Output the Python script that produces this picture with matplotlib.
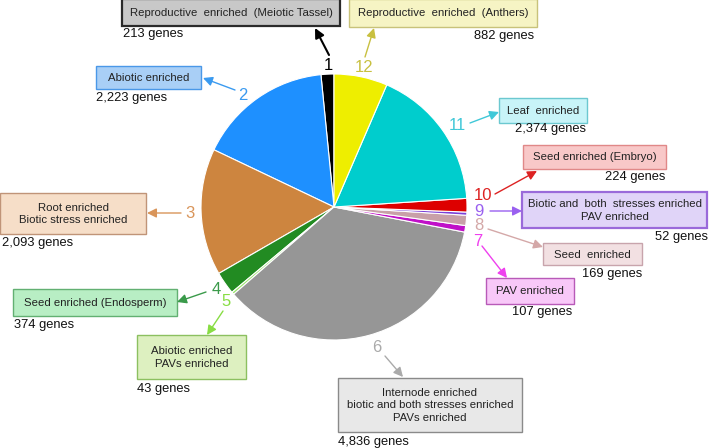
import matplotlib.pyplot as plt
from matplotlib.patches import Rectangle

plt.rcParams["font.family"] = ["Liberation Sans", "DejaVu Sans"]

W, H = 709, 448

# slice order goes counter-clockwise from the top
numbers = ["1", "2", "3", "4", "5", "6", "7", "8", "9", "10", "11", "12"]
genes = [213, 2223, 2093, 374, 43, 4836, 107, 169, 52, 224, 2374, 882]
categories = [
    "Reproductive  enriched  (Meiotic Tassel)",
    "Abiotic enriched",
    "Root enriched\nBiotic stress enriched",
    "Seed enriched (Endosperm)",
    "Abiotic enriched\nPAVs enriched",
    "Internode enriched\nbiotic and both stresses enriched\nPAVs enriched",
    "PAV enriched",
    "Seed  enriched",
    "Biotic and  both  stresses enriched\nPAV enriched",
    "Seed enriched (Embryo)",
    "Leaf  enriched",
    "Reproductive  enriched  (Anthers)",
]

wedge_colors = ["#000000", "#1e90ff", "#cd853f", "#228b22", "#9be66e", "#969696",
                "#c010c8", "#c8a0a8", "#7b3fd8", "#dd0000", "#00cdcd", "#eeee00"]
label_colors = ["#000000", "#3a9af0", "#d9955a", "#3a9a4a", "#88dd44", "#aaaaaa",
                "#ee40ee", "#d4a8a8", "#9a60f0", "#dd2222", "#40c8d8", "#c8c040"]
box_fill = ["#c8c8c8", "#a9cff6", "#f6dec8", "#b8eec4", "#ddf0c0", "#e8e8e8",
            "#f8c8f8", "#f2e0e2", "#e0d4f8", "#f8c8c8", "#c8f4f8", "#f6f4c4"]
box_edge = ["#2a2a2a", "#4a98e8", "#c09478", "#62b072", "#8cc060", "#8a8a8a",
            "#b85ab8", "#c8a4ac", "#9a6ada", "#e08888", "#6cc8d0", "#c8c27a"]

# layout in pixels (x0, y0, x1, y1), y measured from the top
boxes = [(122, -1, 340, 26), (96, 66, 201, 89), (0, 193, 146, 234),
         (13, 289, 177, 316), (137, 335, 246, 379), (338, 378, 522, 432),
         (486, 278, 574, 304), (543, 243, 642, 265), (522, 192, 707, 228),
         (523, 145, 666, 169), (499, 98, 587, 123), (349, -1, 537, 27)]
# gene count text: (x, y, alignment)
gene_pos = [(123, 34, "left"), (96, 98, "left"), (2, 243, "left"),
            (14, 325, "left"), (137, 389, "left"), (338, 442, "left"),
            (572, 312, "right"), (642, 274, "right"), (708, 237, "right"),
            (665, 177, "right"), (586, 129, "right"), (534, 36, "right")]
number_pos = [(328, 65), (243, 95), (190, 213), (216, 289), (226, 302), (377, 347),
              (478, 241), (479, 226), (479, 211), (483, 196), (457, 125), (364, 67)]
arrows = [((329, 55), (315, 28)), ((235, 90), (203, 78)), ((181, 213), (147, 213)),
          ((206, 292), (177, 302)), ((223, 311), (207, 335)), ((385, 356), (403, 377)),
          ((482, 246), (507, 278)), ((488, 229), (543, 247)), ((490, 211), (522, 211)),
          ((495, 194), (537, 171)), ((470, 123), (499, 112)), ((365, 57), (374, 28))]

cx, cy, r = 334, 207, 133

fig = plt.figure(figsize=(W / 100, H / 100), dpi=100)

pie_ax = fig.add_axes([(cx - r) / W, (H - cy - r) / H, 2 * r / W, 2 * r / H])
pie_ax.pie(genes, colors=wedge_colors, startangle=90, counterclock=True,
           wedgeprops=dict(edgecolor="white", linewidth=0.8))
pie_ax.set_xlim(-1.0, 1.0)
pie_ax.set_ylim(-1.0, 1.0)
pie_ax.axis("off")

ax = fig.add_axes([0, 0, 1, 1])
ax.set_xlim(0, W)
ax.set_ylim(H, 0)
ax.axis("off")

for i, cat in enumerate(categories):
    x0, y0, x1, y1 = boxes[i]
    lw = 1.6 if i in (0, 8) else 1.0
    ax.add_patch(Rectangle((x0, y0), x1 - x0, y1 - y0, facecolor=box_fill[i],
                           edgecolor=box_edge[i], linewidth=lw, zorder=2))
    ax.text((x0 + x1) / 2, (y0 + y1) / 2 + 0.5, cat, ha="center", va="center",
            fontsize=8.2, color="#222222", linespacing=1.3, zorder=3)

    gx, gy, ha = gene_pos[i]
    ax.text(gx, gy, f"{genes[i]:,} genes", ha=ha, va="center",
            fontsize=9.3, color="#111111")

    nx, ny = number_pos[i]
    ax.text(nx, ny, numbers[i], ha="center", va="center", fontsize=12,
            color=label_colors[i])

    tail, tip = arrows[i]
    ax.annotate("", xy=tip, xytext=tail,
                arrowprops=dict(arrowstyle="-|>", color=label_colors[i],
                                lw=1.5 if i == 0 else 1.0, mutation_scale=14,
                                shrinkA=0, shrinkB=0))

fig.savefig("out.png", dpi=100)
